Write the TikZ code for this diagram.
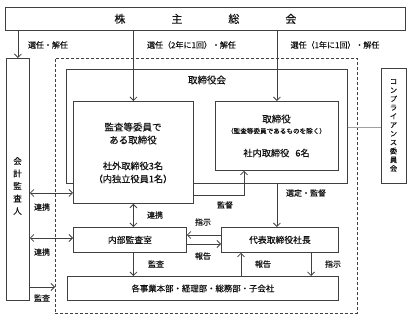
\documentclass[tikz,border=0pt]{standalone}
\usepackage{fontspec}
\setmainfont{Noto Sans CJK JP}[FakeBold=0.2]
\usetikzlibrary{arrows.meta,calc}
\definecolor{lc}{HTML}{404040}
\definecolor{tc}{HTML}{111111}
\definecolor{gc}{HTML}{A0A0A0}
\begin{document}
\begin{tikzpicture}[x=1pt,y=-1pt,
  box/.style={draw=lc,line width=0.8pt,fill=white,inner sep=0pt,anchor=north west,text=tc},
  txt/.style={inner sep=0pt,text=tc,align=center},
  lab/.style={inner sep=0pt,text=tc,font=\fontsize{8}{8}\selectfont},
  arr/.style={draw=lc,line width=0.8pt,-{Straight Barb[length=3.5pt,width=7pt]}},
  darr/.style={draw=lc,line width=0.8pt,{Straight Barb[length=3.5pt,width=7pt]}-{Straight Barb[length=3.5pt,width=7pt]}}
]
\useasboundingbox (0,0) rectangle (412,320);

% boxes
\node[box,minimum width=400pt,minimum height=23pt,font=\fontsize{11}{11}\selectfont] (soukai) at (5,7) {株\hspace{46pt}主\hspace{46pt}総\hspace{46pt}会};
\node[box,minimum width=23pt,minimum height=242pt] (kaikei) at (6,58) {};
\node[txt,font=\fontsize{8.5}{12.5}\selectfont] (kaikeitxt) at (17.5,186) {会\\計\\監\\査\\人};

\node[draw=lc,line width=0.8pt,dashed,dash pattern=on 3pt off 2pt,inner sep=0pt,anchor=north west,minimum width=302pt,minimum height=255pt] (dash) at (55,58) {};

\node[box,minimum width=281pt,minimum height=114pt] (board) at (66,69) {};
\node[txt,font=\fontsize{9.5}{9.5}\selectfont] (boardtxt) at (207,80) {取締役会};

\node[box,minimum width=120pt,minimum height=102pt] (kansa) at (73,101) {};
\node[txt,font=\fontsize{9.5}{13}\selectfont] (kansatxt1) at (133,133.5) {監査等委員で\\ある取締役};
\node[txt,font=\fontsize{9.2}{13}\selectfont] (kansatxt2) at (133,172.5) {社外取締役3名\\（内独立役員1名）};

\node[box,minimum width=123pt,minimum height=69pt] (tori) at (215,101) {};
\node[txt,font=\fontsize{9.5}{9.5}\selectfont] (toritxt1) at (276.5,119) {取締役};
\node[txt,font=\fontsize{6.6}{6.6}\selectfont] (toritxt2) at (276.5,131) {（監査等委員であるものを除く）};
\node[txt,font=\fontsize{9.2}{9.2}\selectfont] (toritxt3) at (276.5,153) {社内取締役\hspace{6pt}6名};

\node[box,minimum width=25pt,minimum height=115pt] (comp) at (381,68) {};
\node[txt,font=\fontsize{7.2}{8.7}\selectfont] (comptxt) at (393.5,125.5) {コ\\ン\\プ\\ラ\\イ\\ア\\ン\\ス\\委\\員\\会};

\node[box,minimum width=113pt,minimum height=25pt,font=\fontsize{8.8}{8.8}\selectfont] (naibu) at (73,227) {内部監査室};
\node[box,minimum width=117pt,minimum height=25pt,font=\fontsize{8.8}{8.8}\selectfont] (daihyo) at (221,227) {代表取締役社長};
\node[box,minimum width=271pt,minimum height=24pt,font=\fontsize{8.4}{8.4}\selectfont] (kakuji) at (67,276) {各事業本部・経理部・総務部・子会社};

% connectors
\draw[arr] (soukai.south -| kaikei.north) -- (kaikei.north);
\draw[arr] (soukai.south -| kansa.north) -- (kansa.north);
\draw[arr] (soukai.south -| tori.north) -- (tori.north);
\draw[arr] (board.south -| tori.south) -- (daihyo.north -| tori.south);
\draw[arr] (kansa.east |- 0,195) -| (tori.south -| 244,0);
\draw[darr] (kaikei.east |- 0,193) -- (kansa.west |- 0,193);
\draw[darr] (kaikei.east |- 0,238) -- (naibu.west |- 0,238);
\draw[arr] (kaikei.east |- 0,287) -- (dash.west |- 0,287);
\draw[darr] (kansa.south) -- (naibu.north -| kansa.south);
\draw[arr] (daihyo.west |- 0,235) -- (naibu.east |- 0,235);
\draw[arr] (naibu.east |- 0,244) -- (daihyo.west |- 0,244);
\draw[arr] (naibu.south -| kansa.south) -- (kakuji.north -| kansa.south);
\draw[arr] (kakuji.north -| 241,0) -- (daihyo.south -| 241,0);
\draw[arr] (daihyo.south -| 311,0) -- (kakuji.north -| 311,0);
\draw[gc,line width=0.8pt] (board.east |- 0,127) -- (comp.west |- 0,127);

% labels
\node[lab] (l1) at (48,45) {選任・解任};
\node[lab] (l2) at (191.5,45) {選任（2年に1回）・解任};
\node[lab] (l3) at (335,45) {選任（1年に1回）・解任};
\node[lab] (l4) at (42,207) {連携};
\node[lab] (l5) at (42,252) {連携};
\node[lab] (l6) at (42,298) {監査};
\node[lab] (l7) at (155,215) {連携};
\node[lab] (l8) at (203,222) {指示};
\node[lab] (l9) at (203,256) {報告};
\node[lab] (l10) at (156,264) {監査};
\node[lab] (l11) at (263,264) {報告};
\node[lab] (l12) at (333,264) {指示};
\node[lab] (l13) at (225,205) {監督};
\node[lab] (l14) at (306,193) {選定・監督};
\end{tikzpicture}
\end{document}
